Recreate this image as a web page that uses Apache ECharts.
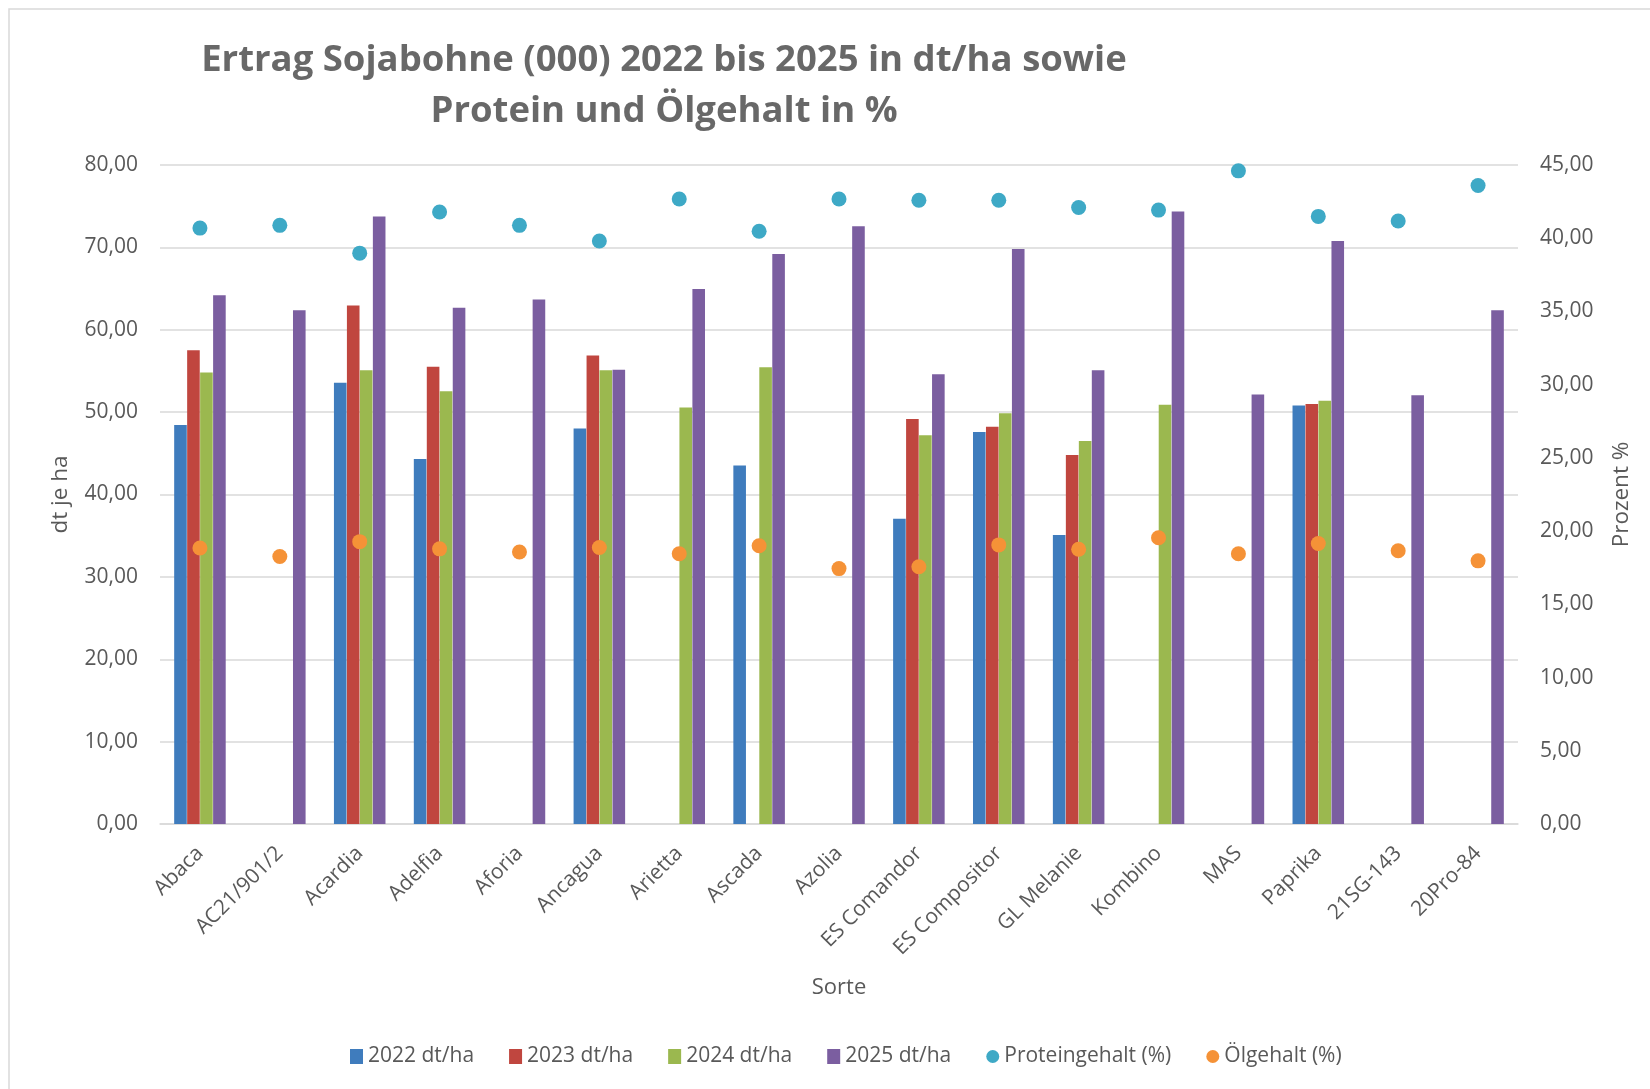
<!DOCTYPE html>
<html>
<head>
  <meta charset="UTF-8">
  <title>Ertrag Sojabohne</title>
  <script src="https://cdn.jsdelivr.net/npm/echarts@6/dist/echarts.min.js"></script>
  <style>
    html, body { margin:0; padding:0; background:#fff; }
    #chart { width:1650px; height:1089px; }
  </style>
</head>
<body>
<div id="chart"></div>
<script type="text/javascript">
  var sorten = ['Abaca','AC21/901/2','Acardia','Adelfia','Aforia','Ancagua','Arietta','Ascada','Azolia',
    'ES Comandor','ES Compositor','GL Melanie','Kombino','MAS','Paprika','21SG-143','20Pro-84'];

  var ertrag2022 = [48.45, null, 53.56, 44.32, null, 48.02, null, 43.51, null, 37.05, 47.58, 35.09, null, null, 50.79, null, null];
  var ertrag2023 = [57.52, null, 62.95, 55.51, null, 56.87, null, null, null, 49.16, 48.23, 44.81, null, null, 51.00, null, null];
  var ertrag2024 = [54.81, null, 55.08, 52.53, null, 55.08, 50.57, 55.46, null, 47.20, 49.86, 46.50, 50.90, null, 51.38, null, null];
  var ertrag2025 = [64.20, 62.36, 73.76, 62.68, 63.66, 55.13, 64.96, 69.20, 72.57, 54.59, 69.80, 55.08, 74.36, 52.15, 70.78, 52.04, 62.36];
  var protein = [40.69, 40.88, 38.98, 41.79, 40.88, 39.81, 42.68, 40.48, 42.68, 42.59, 42.59, 42.10, 41.92, 44.60, 41.49, 41.18, 43.60];
  var oel = [18.85, 18.27, 19.28, 18.79, 18.57, 18.88, 18.45, 19.00, 17.44, 17.57, 19.06, 18.76, 19.55, 18.45, 19.15, 18.66, 17.97];

  var txt = '#595959';
  var font = 'Open Sans';

  function fmt(v){
    return v.toFixed(2).replace('.', ',');
  }

  function barSeries(name, data, color){
    return {
      name: name, type: 'bar', data: data,
      barWidth: 12.6, barGap: '3%',
      itemStyle: { color: color }
    };
  }

  function dotSeries(name, data, color){
    return {
      name: name, type: 'scatter', yAxisIndex: 1, data: data,
      symbolSize: 15,
      itemStyle: { color: color, opacity: 1 }
    };
  }

  var chart = echarts.init(document.getElementById('chart'));
  chart.setOption({
    backgroundColor: '#fff',
    animation: false,
    textStyle: { fontFamily: font },
    graphic: [{
      type: 'rect',
      shape: { x: 9, y: 9, width: 1700, height: 1150 },
      style: { fill: 'none', stroke: '#d9d9d9', lineWidth: 1.5 },
      silent: true
    }],
    title: {
      text: 'Ertrag Sojabohne (000) 2022 bis 2025 in dt/ha sowie\nProtein und Ölgehalt in %',
      left: 659,
      top: 30,
      textAlign: 'center',
      textStyle: { color: '#686868', fontSize: 36.5, fontWeight: 'bold', fontFamily: font, lineHeight: 51 }
    },
    legend: {
      left: 345,
      top: 1041,
      itemWidth: 13,
      itemHeight: 15,
      itemGap: 35,
      textStyle: { color: txt, fontSize: 21, fontFamily: font },
      data: [
        { name: '2022 dt/ha', icon: 'rect' },
        { name: '2023 dt/ha', icon: 'rect' },
        { name: '2024 dt/ha', icon: 'rect' },
        { name: '2025 dt/ha', icon: 'rect' },
        { name: 'Proteingehalt (%)', icon: 'circle' },
        { name: 'Ölgehalt (%)', icon: 'circle' }
      ]
    },
    grid: { left: 160, right: 132, top: 165, bottom: 265 },
    xAxis: {
      type: 'category',
      data: sorten,
      name: 'Sorte',
      nameLocation: 'middle',
      nameGap: 153,
      nameTextStyle: { color: txt, fontSize: 22, fontFamily: font },
      axisLine: { lineStyle: { color: '#d9d9d9', width: 1.5 } },
      axisTick: { show: false },
      axisLabel: { rotate: 45, color: txt, fontSize: 21, fontFamily: font, margin: 26, interval: 0 }
    },
    yAxis: [{
      type: 'value',
      min: 0, max: 80, interval: 10,
      name: 'dt je ha',
      nameLocation: 'middle',
      nameRotate: 90,
      nameGap: 88,
      nameTextStyle: { color: txt, fontSize: 22.5, fontFamily: font },
      axisLine: { show: false },
      axisTick: { show: false },
      axisLabel: { color: txt, fontSize: 21, fontFamily: font, margin: 22, formatter: fmt },
      splitLine: { lineStyle: { color: '#d9d9d9', width: 1.5 } }
    }, {
      type: 'value',
      min: 0, max: 45, interval: 5,
      name: 'Prozent %',
      nameLocation: 'middle',
      nameRotate: 90,
      nameGap: 92,
      nameTextStyle: { color: txt, fontSize: 22.5, fontFamily: font },
      axisLine: { show: false },
      axisTick: { show: false },
      axisLabel: { color: txt, fontSize: 21, fontFamily: font, margin: 22, formatter: fmt },
      splitLine: { show: false }
    }],
    series: [
      barSeries('2022 dt/ha', ertrag2022, '#3f7cbd'),
      barSeries('2023 dt/ha', ertrag2023, '#c0463f'),
      barSeries('2024 dt/ha', ertrag2024, '#9bb84f'),
      barSeries('2025 dt/ha', ertrag2025, '#7b5ea0'),
      dotSeries('Proteingehalt (%)', protein, '#3ea9c6'),
      dotSeries('Ölgehalt (%)', oel, '#f59237')
    ]
  });
</script>
</body>
</html>
